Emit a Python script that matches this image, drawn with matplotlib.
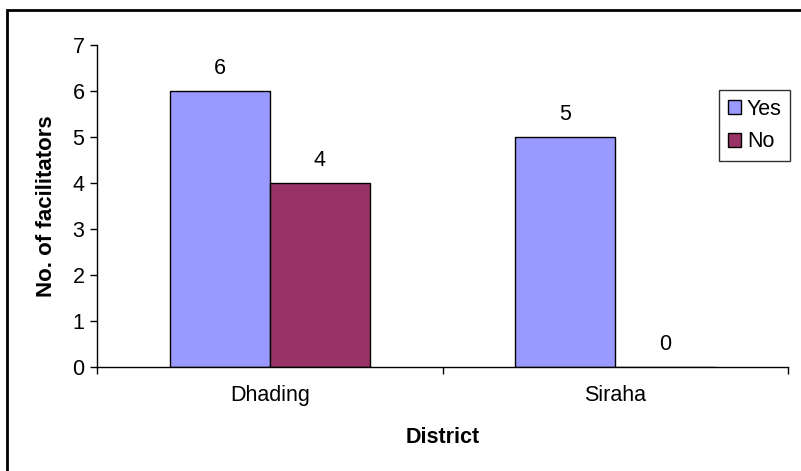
import matplotlib
matplotlib.use("Agg")
import matplotlib.pyplot as plt
from matplotlib.patches import Rectangle
import numpy as np

districts = ["Dhading", "Siraha"]
yes_counts = [6, 5]
no_counts = [4, 0]
series_names = ["Yes", "No"]
y_ticks = [0, 1, 2, 3, 4, 5, 6, 7]

plt.rcParams["font.family"] = ["Liberation Sans", "DejaVu Sans"]
FS = 15.5

W, H = 801, 471
fig = plt.figure(figsize=(W / 100, H / 100), dpi=100)
fig.patch.set_facecolor("white")

# outer frame around the chart area
fig.patches.append(Rectangle((7 / W, -0.05), 1.1, 1 - 10 / H + 0.05,
                             transform=fig.transFigure, fill=False,
                             edgecolor="black", linewidth=2, zorder=10))

ax = fig.add_axes([97 / W, 1 - 367 / H, (788 - 97) / W, (367 - 45) / H])

x = np.arange(len(districts))
bw = 0.29
b1 = ax.bar(x - bw / 2, yes_counts, bw, color="#9999FF", edgecolor="black",
            linewidth=1, label=series_names[0])
b2 = ax.bar(x + bw / 2, no_counts, bw, color="#993366", edgecolor="black",
            linewidth=1, label=series_names[1])

for bars, vals in ((b1, yes_counts), (b2, no_counts)):
    for rect, v in zip(bars, vals):
        ax.annotate(str(v), (rect.get_x() + rect.get_width() / 2, v),
                    xytext=(0, 12), textcoords="offset points",
                    ha="center", va="baseline", fontsize=FS)

ax.set_xlim(-0.5, len(districts) - 0.5)
ax.set_ylim(0, 7)
ax.set_yticks(y_ticks)
ax.tick_params(axis="y", labelsize=FS, length=5, width=1, direction="out", pad=4)

# category boundary ticks on the x axis, labels centred between them
ax.set_xticks(np.arange(len(districts) + 1) - 0.5)
ax.set_xticklabels([])
ax.set_xticks(x, minor=True)
ax.set_xticklabels(districts, minor=True, fontsize=FS)
ax.tick_params(axis="x", which="major", length=5, width=1, direction="out")
ax.tick_params(axis="x", which="minor", length=0, pad=13)

for s in ("top", "right"):
    ax.spines[s].set_visible(False)
for s in ("left", "bottom"):
    ax.spines[s].set_linewidth(1)

ax.set_ylabel("No. of facilitators", fontsize=16, fontweight="bold", labelpad=11)
ax.set_xlabel("District", fontsize=FS, fontweight="bold", labelpad=15)

leg = ax.legend(loc="upper left", bbox_to_anchor=(719 / W, 1 - 90 / H),
                bbox_transform=fig.transFigure, frameon=True, fancybox=False,
                edgecolor="black", fontsize=FS, handlelength=0.6,
                handleheight=0.6, handletextpad=0.3, borderpad=0.4,
                labelspacing=0.55, borderaxespad=0)
leg.get_frame().set_linewidth(1)

fig.savefig("out.png", dpi=100, facecolor="white")
